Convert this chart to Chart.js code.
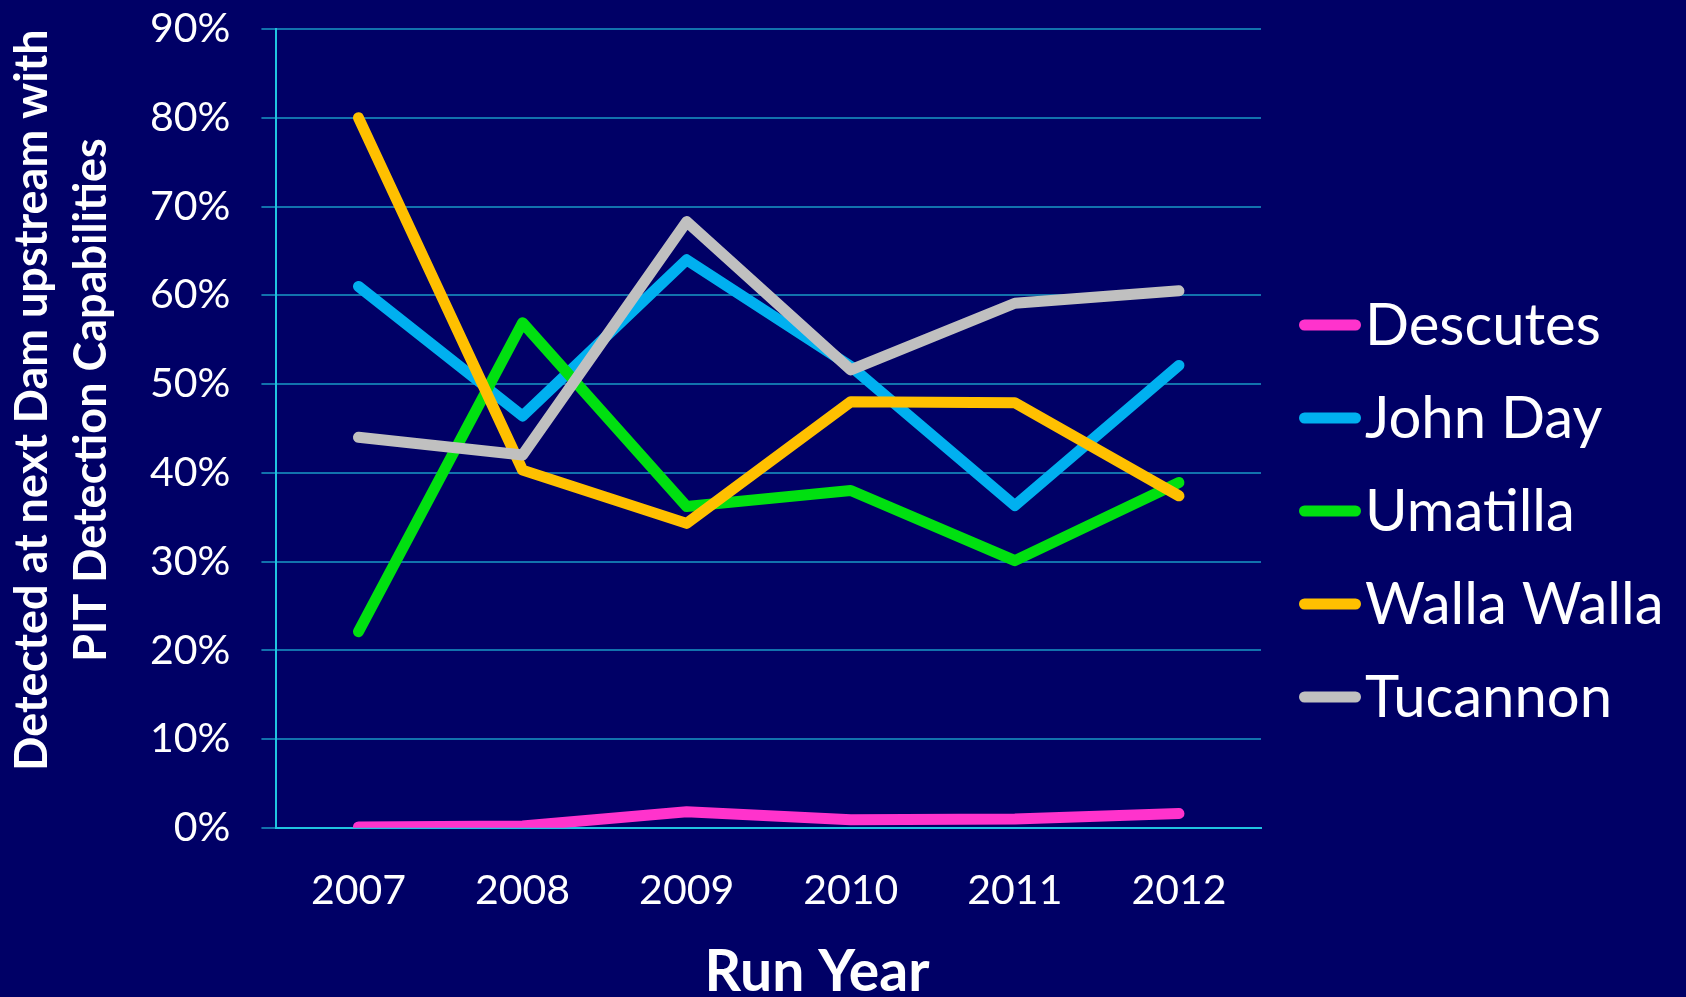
<!DOCTYPE html>
<html>
<head>
<meta charset="utf-8">
<script src="https://cdn.jsdelivr.net/npm/chart.js@4.4.0/dist/chart.umd.min.js"></script>
<style>
    html, body { margin: 0; padding: 0; background: #000066; }
    #wrap { width: 1686px; height: 997px; }
</style>
</head>
<body>
<div id="wrap"><canvas id="myChart" width="1686" height="997"></canvas></div>
<script>
// values, in percent
const years = ['2007', '2008', '2009', '2010', '2011', '2012']
const descutes = [0.1, 0.2, 1.8, 0.9, 1.0, 1.6]
const johnDay = [61.0, 46.4, 64.0, 52.0, 36.3, 52.1]
const umatilla = [22.1, 56.9, 36.2, 38.0, 30.1, 38.9]
const wallaWalla = [80.0, 40.3, 34.3, 48.0, 47.9, 37.4]
const tucannon = [44.0, 42.0, 68.3, 51.6, 59.1, 60.5]
const yTicks = [0, 10, 20, 30, 40, 50, 60, 70, 80, 90]

const yTitle = ['Detected at next Dam upstream with', 'PIT Detection Capabilities']
const xTitle = 'Run Year'

const gridColor = '#1272ad'
const axisColor = '#20c4e0'

// legend and axis titles drawn by hand to sit where the original has them
const extras = {
    id: 'extras',
    afterDraw(chart) {
        let ctx = chart.ctx
        let area = chart.chartArea
        ctx.save()
        ctx.fillStyle = '#ffffff'

        chart.data.datasets.forEach((ds, i) => {
            let y = 325 + i * 93
            ctx.strokeStyle = ds.borderColor
            ctx.lineWidth = 11
            ctx.lineCap = 'round'
            ctx.beginPath()
            ctx.moveTo(area.right + 43.5, y)
            ctx.lineTo(area.right + 94.5, y)
            ctx.stroke()
            ctx.font = '58px Lato'
            ctx.textAlign = 'left'
            ctx.textBaseline = 'alphabetic'
            ctx.fillText(ds.label, area.right + 104, y + 20)
        })

        ctx.font = 'bold 57px Lato'
        ctx.textAlign = 'center'
        ctx.textBaseline = 'alphabetic'
        ctx.fillText(xTitle, 817, 991)

        ctx.font = 'bold 45px Lato'
        ctx.textBaseline = 'middle'
        let xs = [32, 91]
        yTitle.forEach((t, i) => {
            ctx.save()
            ctx.translate(xs[i], 400)
            ctx.rotate(-Math.PI / 2)
            ctx.fillText(t, 0, 0)
            ctx.restore()
        })
        ctx.restore()
    }
}

let mychart = document.getElementById('myChart').getContext('2d')
let chart = new Chart(mychart, {
    type: 'line',
    data: {
        labels: years,
        datasets: [{
            label: 'Descutes',
            data: descutes,
            borderColor: '#ff33cc',
            order: 5,
            clip: 0
        },
        {
            label: 'John Day',
            data: johnDay,
            borderColor: '#00b0f0',
            order: 4
        },
        {
            label: 'Umatilla',
            data: umatilla,
            borderColor: '#00e010',
            order: 3
        },
        {
            label: 'Walla Walla',
            data: wallaWalla,
            borderColor: '#ffc000',
            order: 2
        },
        {
            label: 'Tucannon',
            data: tucannon,
            borderColor: '#c0c0c0',
            order: 1
        }]
    },
    options: {
        responsive: false,
        animation: false,
        layout: { padding: { left: 119, right: 425, top: 29, bottom: 44 } },
        elements: {
            line: { borderWidth: 11, borderCapStyle: 'round', borderJoinStyle: 'round', tension: 0 },
            point: { radius: 0, hoverRadius: 0 }
        },
        plugins: {
            legend: { display: false },
            tooltip: { enabled: false }
        },
        scales: {
            x: {
                offset: true,
                grid: { display: false, drawTicks: false },
                border: { color: axisColor, width: 2 },
                ticks: { color: '#ffffff', font: { family: 'Lato', size: 41 }, padding: 38 }
            },
            y: {
                min: 0,
                max: 90,
                afterBuildTicks: axis => { axis.ticks = yTicks.map(v => ({ value: v })) },
                // the labels may hang over the top edge, layout padding handles it
                afterFit: axis => { axis.paddingTop = 0; axis.paddingBottom = 0 },
                grid: { color: gridColor, lineWidth: 2, tickLength: 15, tickColor: gridColor },
                border: { color: axisColor, width: 2 },
                ticks: {
                    color: '#ffffff',
                    font: { family: 'Lato', size: 41 },
                    padding: 31,
                    callback: v => v + '%'
                }
            }
        }
    },
    plugins: [extras]
})
</script>
</body>
</html>
